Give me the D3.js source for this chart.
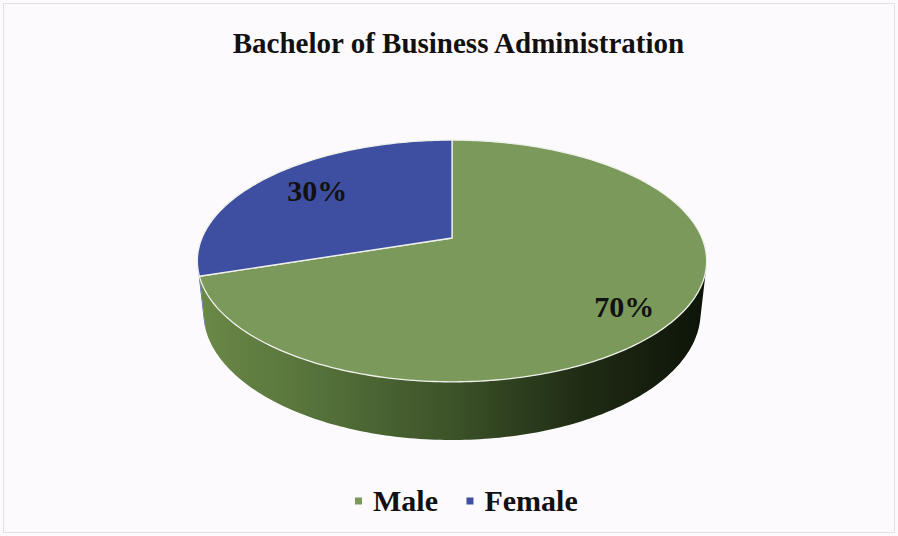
<!DOCTYPE html>
<html>
<head>
<meta charset="utf-8">
<script src="https://cdn.jsdelivr.net/npm/d3@7/dist/d3.min.js"></script>
<style>
  html, body { margin: 0; padding: 0; background: #fdfafd; }
  svg { display: block; }
</style>
</head>
<body>
<svg id="chart" width="898" height="536"></svg>
<script>
// ---- data ----
const title = "Bachelor of Business Administration";
const categories = ["Male", "Female"];
const values = [70, 30];
const labels = ["70%", "30%"];

// ---- style / layout ----
const topColors = ["#7a995b", "#3e4ea0"];
const wallStops = [
  ["#6c8a48", "#55713a", "#3c5228", "#1f2c14", "#0c1208"],
  ["#4756a8", "#37448a", "#283266", "#161c3e", "#0a0d20"]
];
const labelLayout = [{ r: 0.82, shift: 5 }, { r: 0.72, shift: 0 }];
const FONT = "'Liberation Serif', 'Times New Roman', serif";

const W = 898, H = 536;
const svg = d3.select("#chart");

// background + faint frame
svg.append("rect").attr("width", W).attr("height", H).attr("fill", "#fdfafd");
svg.append("rect").attr("x", 3.5).attr("y", 3.5).attr("width", W - 7).attr("height", H - 7)
  .attr("fill", "none").attr("stroke", "#e4dfea").attr("stroke-width", 1);

// ---- perspective projection of a unit disc ----
const cx = 452, cy = 238, S = 1165, Dist = 4.66;
const sinE = 0.466, cosE = Math.sqrt(1 - sinE * sinE);
const depthH = 0.2345;
function proj(X, Y, Z) {
  const d = Dist + Y * cosE - Z * sinE;
  return [cx + S * X / d, cy - S * (Y * sinE + Z * cosE) / d];
}
function rim(a, Z, r = 1) { return proj(r * Math.sin(a), r * Math.cos(a), Z); }

const pie = d3.pie().sort(null).value(d => d).startAngle(0).endAngle(2 * Math.PI);
const arcs = pie(values);

// visible wall range: cos a < -1/(D cosE)
const limit = Math.acos(-1 / (Dist * cosE));
const visA = limit, visB = 2 * Math.PI - limit;

const defs = svg.append("defs");
wallStops.forEach((stops, i) => {
  const g = defs.append("linearGradient").attr("id", "wall" + i)
    .attr("gradientUnits", "userSpaceOnUse")
    .attr("x1", proj(-1, -0.2, 0)[0]).attr("x2", proj(1, -0.2, 0)[0])
    .attr("y1", 0).attr("y2", 0);
  stops.forEach((c, k) => g.append("stop").attr("offset", k / (stops.length - 1)).attr("stop-color", c));
});

const line = d3.line();
function sample(a0, a1, n) {
  const out = [];
  for (let k = 0; k <= n; k++) out.push(a0 + (a1 - a0) * k / n);
  return out;
}

// walls
arcs.forEach((d, i) => {
  const a0 = Math.max(d.startAngle, visA), a1 = Math.min(d.endAngle, visB);
  if (a1 <= a0) return;
  const angs = sample(a0, a1, Math.max(4, Math.ceil((a1 - a0) * 60)));
  const pts = angs.map(a => rim(a, 0)).concat(angs.slice().reverse().map(a => rim(a, -depthH)));
  svg.append("path").attr("d", line(pts) + "Z")
    .attr("fill", "url(#wall" + i + ")");
});

// tops
arcs.forEach((d, i) => {
  const angs = sample(d.startAngle, d.endAngle, Math.ceil((d.endAngle - d.startAngle) * 60));
  const pts = [proj(0, 0, 0)].concat(angs.map(a => rim(a, 0)));
  svg.append("path").attr("d", line(pts) + "Z")
    .attr("fill", topColors[i])
    .attr("stroke", "#eef0ea").attr("stroke-width", 1.3).attr("stroke-linejoin", "round");
});

// labels
arcs.forEach((d, i) => {
  const L = labelLayout[i];
  const mid = (d.startAngle + d.endAngle) / 2 + L.shift * Math.PI / 180;
  const p = rim(mid, 0, L.r);
  svg.append("text").attr("x", p[0]).attr("y", p[1]).attr("dy", "0.3em")
    .attr("text-anchor", "middle")
    .attr("font-family", FONT)
    .attr("font-weight", "bold").attr("font-size", 30).attr("fill", "#111")
    .text(labels[i]);
});

// title
svg.append("text").attr("x", 458.5).attr("y", 52.5).attr("text-anchor", "middle")
  .attr("font-family", FONT)
  .attr("font-weight", "bold").attr("font-size", 29).attr("fill", "#111")
  .text(title);

// legend
const leg = svg.append("g");
let x = 0;
categories.forEach((c, i) => {
  leg.append("rect").attr("x", x).attr("y", -13.5).attr("width", 7).attr("height", 7).attr("fill", topColors[i]);
  const t = leg.append("text").attr("x", x + 18).attr("y", 0)
    .attr("font-family", FONT)
    .attr("font-weight", "bold").attr("font-size", 30).attr("fill", "#111").text(c);
  x += 18 + t.node().getComputedTextLength() + 28.5;
});
leg.attr("transform", "translate(355,511)");
</script>
</body>
</html>
